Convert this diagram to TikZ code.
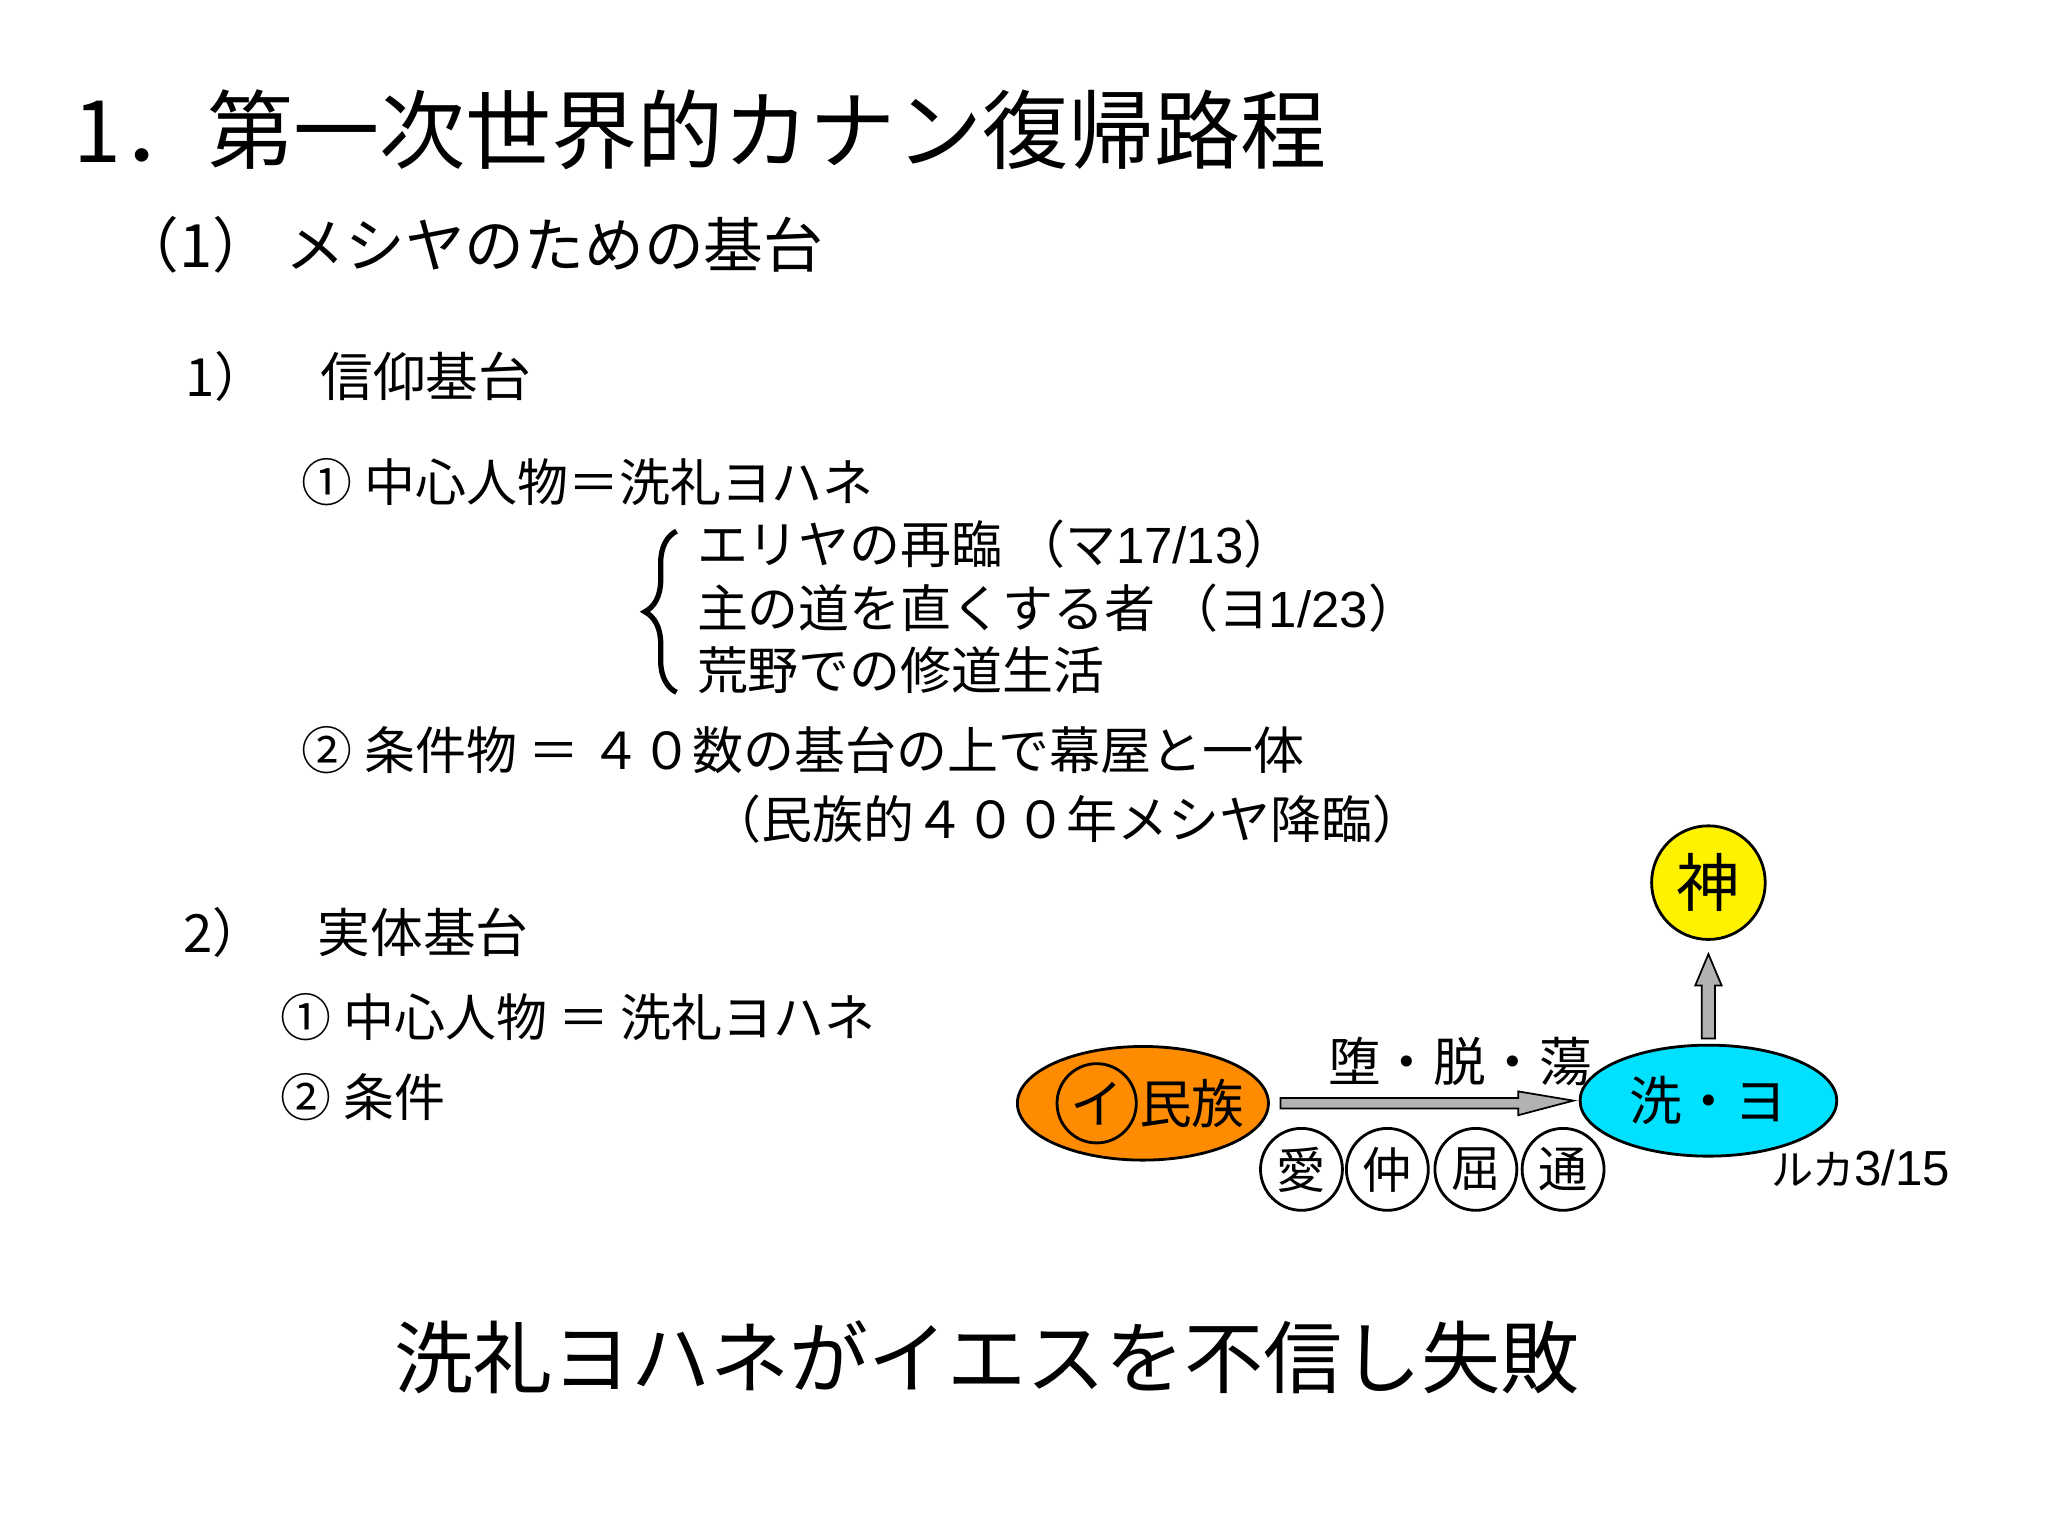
\documentclass[tikz,border=0pt]{standalone}
\usepackage{fontspec}
\setmainfont{Noto Sans CJK JP}
\newfontfamily\lat{Liberation Sans}
\usetikzlibrary{decorations.pathreplacing,calc,shapes.geometric}
\definecolor{cyanc}{RGB}{0,225,255}
\begin{document}
\begin{tikzpicture}[x=0.01321cm,y=-0.01321cm,
 t/.style={anchor=west,inner sep=0pt},
 body/.style={t,font=\fontsize{14.5}{16}\selectfont},
 circ/.style={circle,draw,thick,minimum size=62*0.01321cm,inner sep=0pt,font=\fontsize{14}{16}\selectfont,fill=white},
 garrow/.style={draw=black,fill=gray!60,line width=0.5pt}]
\useasboundingbox (0,0) rectangle (1550,1163);
\node[t,font=\fontsize{24.5}{28}\selectfont] (title) at (55,98) {1．第一次世界的カナン復帰路程};
\node[t,font=\fontsize{17}{20}\selectfont] (sub) at (90,185) {（1） メシヤのための基台};
\node[body,font=\fontsize{15}{18}\selectfont] (h1) at (140,285) {1）\quad 信仰基台};
\node[body] (a1) at (228,365) {① 中心人物＝洗礼ヨハネ};
\node[body] (b1) at (527,412) {エリヤの再臨 （マ{\lat 17/13}）};
\node[body] (b2) at (527,460) {主の道を直くする者 （ヨ{\lat 1/23}）};
\node[body] (b3) at (527,507) {荒野での修道生活};
\coordinate (bt) at (512,402);
\coordinate (bb) at (512,524);
\draw[line width=1.5pt,decorate,decoration={brace,amplitude=9pt}] (bb) -- (bt);
\node[body] (a2) at (228,568) {② 条件物 ＝ ４０数の基台の上で幕屋と一体};
\node[body] (a3) at (537,620) {（民族的４００年メシヤ降臨）};
\node[body,font=\fontsize{15}{18}\selectfont] (h2) at (138,706) {2）\quad 実体基台};
\node[body] (c1) at (212,770) {① 中心人物 ＝ 洗礼ヨハネ};
\node[body] (c2) at (212,830) {② 条件};
% diagram
\node[ellipse,draw,thick,fill=orange!90!yellow,minimum width=190*0.01321cm,minimum height=86*0.01321cm] (isr) at (865,835) {};
\node[circle,draw,thick,minimum size=60*0.01321cm,inner sep=0pt,font=\fontsize{15}{18}\selectfont] (i) at (830,835) {イ};
\node[inner sep=0pt,font=\fontsize{15}{18}\selectfont] (mz) at (902,835) {民族};
\node[ellipse,draw,thick,fill=cyanc,minimum width=150*0.01321cm,minimum height=84*0.01321cm,font=\fontsize{15}{18}\selectfont] (jo) at (1293,833) {洗・ヨ};
\node[circle,draw,thick,fill=yellow,minimum size=86*0.01321cm,inner sep=0pt,font=\fontsize{18}{20}\selectfont] (god) at (1293,668) {神};
\node[font=\fontsize{15}{18}\selectfont] (fall) at (1105,803) {堕・脱・蕩};
\node[circ] (ai) at (985,885) {愛};
\node[circ] (na) at (1050,885) {仲};
\node[circ] (ku) at (1117,885) {屈};
\node[circ] (tu) at (1183,885) {通};
\node[t,font=\fontsize{12}{14}\selectfont] (luke) at (1340,884) {ルカ{\lat\fontsize{14}{16}\selectfont 3/15}};
\draw[garrow] ($(isr.east)+(8,-4)$) -- ++(180,0) -- ++(0,-5) -- ($(jo.west)+(-4,0)$) -- ($(isr.east)+(188,9)$) -- ++(0,-5) -- ++(-180,0) -- cycle;
\draw[garrow] ($(jo.north)+(-5,-4)$) -- ++(0,-40) -- ++(-5,0) -- ($(god.south)+(0,10)$) -- ($(jo.north)+(10,-44)$) -- ++(-5,0) -- ++(0,40) -- cycle;
\node[t,font=\fontsize{22.5}{26}\selectfont] (res) at (298,1027) {洗礼ヨハネがイエスを不信し失敗};
\end{tikzpicture}
\end{document}
